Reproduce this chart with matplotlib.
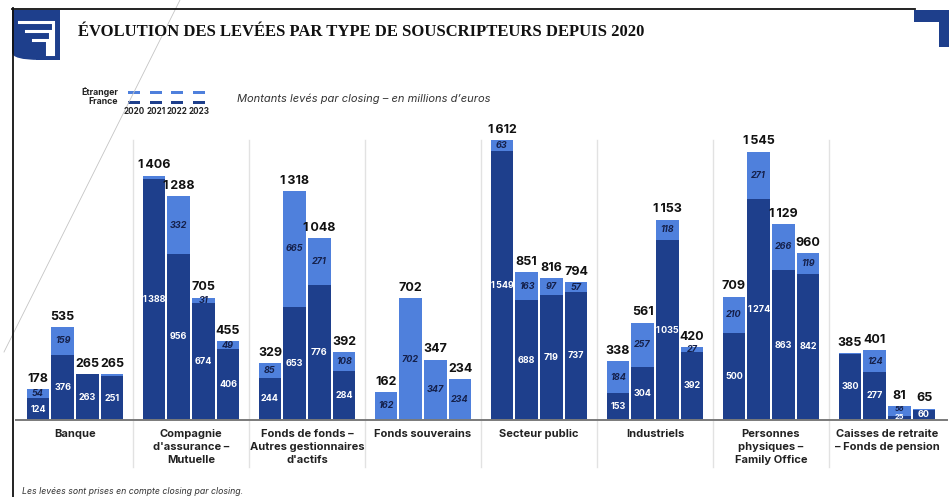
import numpy as np
import matplotlib
matplotlib.use("Agg")
import matplotlib.pyplot as plt
from matplotlib.patches import Rectangle, FancyBboxPatch
from matplotlib.lines import Line2D

plt.rcParams['font.family'] = ['Inter', 'DejaVu Sans']

# data (millions d'euros)
categories = ["Banque", "Compagnie\nd'assurance –\nMutuelle",
              "Fonds de fonds –\nAutres gestionnaires\nd'actifs", "Fonds souverains",
              "Secteur public", "Industriels", "Personnes\nphysiques –\nFamily Office",
              "Caisses de retraite\n– Fonds de pension"]
years = ["2020", "2021", "2022", "2023"]
# one row per category, one column per year
france = [[124, 376, 263, 251],
          [1388, 956, 674, 406],
          [244, 653, 776, 284],
          [0, 0, 0, 0],
          [1549, 688, 719, 737],
          [153, 304, 1035, 392],
          [500, 1274, 863, 842],
          [380, 277, 25, 60]]
etranger = [[54, 159, 2, 14],
            [18, 332, 31, 49],
            [85, 665, 271, 108],
            [162, 702, 347, 234],
            [63, 163, 97, 57],
            [184, 257, 118, 27],
            [210, 271, 266, 119],
            [5, 124, 56, 5]]
totals = [[178, 535, 265, 265],
          [1406, 1288, 705, 455],
          [329, 1318, 1048, 392],
          [162, 702, 347, 234],
          [1612, 851, 816, 794],
          [338, 561, 1153, 420],
          [709, 1545, 1129, 960],
          [385, 401, 81, 65]]

DARK = "#1e3f8c"
LIGHT = "#4f80dc"

W, H = 949, 497
fig = plt.figure(figsize=(W / 100, H / 100), dpi=100)


def fx(x):
    return x / W


def fy(y):
    return 1 - y / H


def fmt(v):
    return f"{v:,}".replace(",", "\u2009")


ax = fig.add_axes([fx(17), fy(420), fx(945) - fx(17), fy(130) - fy(420)])
ax.set_xlim(-0.5, 7.5)
ax.set_ylim(0, 290 / 0.1737)
ax.axis("off")

fr = np.array(france)
et = np.array(etranger)
tot = np.array(totals)
step = 0.213
width = 0.194
for j in range(len(years)):
    x = np.arange(len(categories)) + (j - 1.5) * step
    ax.bar(x, fr[:, j], width, color=DARK, linewidth=0)
    ax.bar(x, et[:, j], width, bottom=fr[:, j], color=LIGHT, linewidth=0)
    for i in range(len(categories)):
        f, e, t = fr[i, j], et[i, j], tot[i, j]
        # both labels on a very short bar: squeeze them in
        tiny = f > 0 and e >= 20 and f + e < 100
        if f > 0:
            if tiny:
                ax.text(x[i], 0, fmt(f), ha="center", va="bottom", color="white",
                        fontsize=5.3, fontweight="bold")
            else:
                ax.text(x[i], f / 2, fmt(f), ha="center", va="center",
                        color="white", fontsize=6.5, fontweight="bold")
        if e >= 20:
            if tiny:
                ax.text(x[i], f + e, f"{e}", ha="center", va="top", color="#15204a",
                        fontsize=5.3, fontweight="bold", fontstyle="italic")
            else:
                ax.text(x[i], f + e / 2, f"{e}", ha="center", va="center", color="#15204a",
                        fontsize=6.5, fontweight="bold", fontstyle="italic")
        ax.text(x[i], f + e + 25, fmt(t), ha="center", va="bottom",
                color="#111111", fontsize=9, fontweight="bold")

# baseline and group separators
fig.add_artist(Line2D([fx(16), fx(947)], [fy(420), fy(420)], color="#7a7a7a", lw=1.4))
for k in range(1, len(categories)):
    xp = 17 + 116 * k
    fig.add_artist(Line2D([fx(xp), fx(xp)], [fy(140), fy(467)], color="#e2e2e2", lw=1, zorder=0))
for i, c in enumerate(categories):
    fig.text(fx(17 + 116 * i + 58), fy(429), c, ha="center", va="top", fontsize=8,
             fontweight="bold", color="#222222", linespacing=1.35)

# frame decorations
fig.add_artist(Line2D([fx(180), fx(4)], [fy(0), fy(352)], color="#c4c4c4", lw=0.6))
fig.add_artist(Line2D([fx(12), fx(915)], [fy(8.5), fy(8.5)], color="#111111", lw=1.3))
fig.add_artist(Line2D([fx(12.5), fx(12.5)], [fy(8), fy(497)], color="#111111", lw=1.3))
fig.add_artist(FancyBboxPatch((fx(12), fy(60)), fx(48), fy(0) - fy(50) - 0.02,
                              boxstyle="round,pad=0,rounding_size=0.03", color=DARK, lw=0,
                              mutation_aspect=H / W))
fig.add_artist(Rectangle((fx(12), fy(30)), fx(48), fy(10) - fy(30), color=DARK, lw=0))
fig.add_artist(Rectangle((fx(36), fy(60)), fx(24), fy(30) - fy(60), color=DARK, lw=0))
for k, (x0, y0) in enumerate([(19, 22), (26, 31), (33, 40)]):
    fig.add_artist(Line2D([fx(x0), fx(53 - 3 * k), fx(53 - 3 * k)], [fy(y0), fy(y0), fy(54)],
                          color="white", lw=2.2, solid_joinstyle="miter"))
fig.add_artist(Rectangle((fx(914), fy(22)), fx(35), fy(10) - fy(22), color=DARK, lw=0))
fig.add_artist(Rectangle((fx(939), fy(47)), fx(10), fy(22) - fy(47), color=DARK, lw=0))

fig.text(fx(78), fy(32), "ÉVOLUTION DES LEVÉES PAR TYPE DE SOUSCRIPTEURS DEPUIS 2020",
         ha="left", va="center", fontsize=12, fontweight="bold", color="#111111",
         family="Liberation Serif")

# legend
fig.text(fx(118), fy(92), "Étranger", ha="right", va="center", fontsize=6.3, fontweight="bold", color="#222222")
fig.text(fx(118), fy(102), "France", ha="right", va="center", fontsize=6.3, fontweight="bold", color="#222222")
for j, yr in enumerate(years):
    xc = 134 + 21.7 * j
    fig.add_artist(Rectangle((fx(xc - 6), fy(93.5)), fx(12), fy(90.5) - fy(93.5), color=LIGHT, lw=0))
    fig.add_artist(Rectangle((fx(xc - 6), fy(103.5)), fx(12), fy(100.5) - fy(103.5), color=DARK, lw=0))
    fig.text(fx(xc), fy(112), yr, ha="center", va="center", fontsize=5.8,
             fontweight="bold", color="#222222")
fig.text(fx(237), fy(99), "Montants levés par closing – en millions d’euros", ha="left",
         va="center", fontsize=8, fontstyle="italic", color="#333333")

fig.text(fx(22), fy(491), "Les levées sont prises en compte closing par closing.", ha="left",
         va="center", fontsize=6.3, fontstyle="italic", color="#333333")

fig.savefig("out.png", dpi=100)
